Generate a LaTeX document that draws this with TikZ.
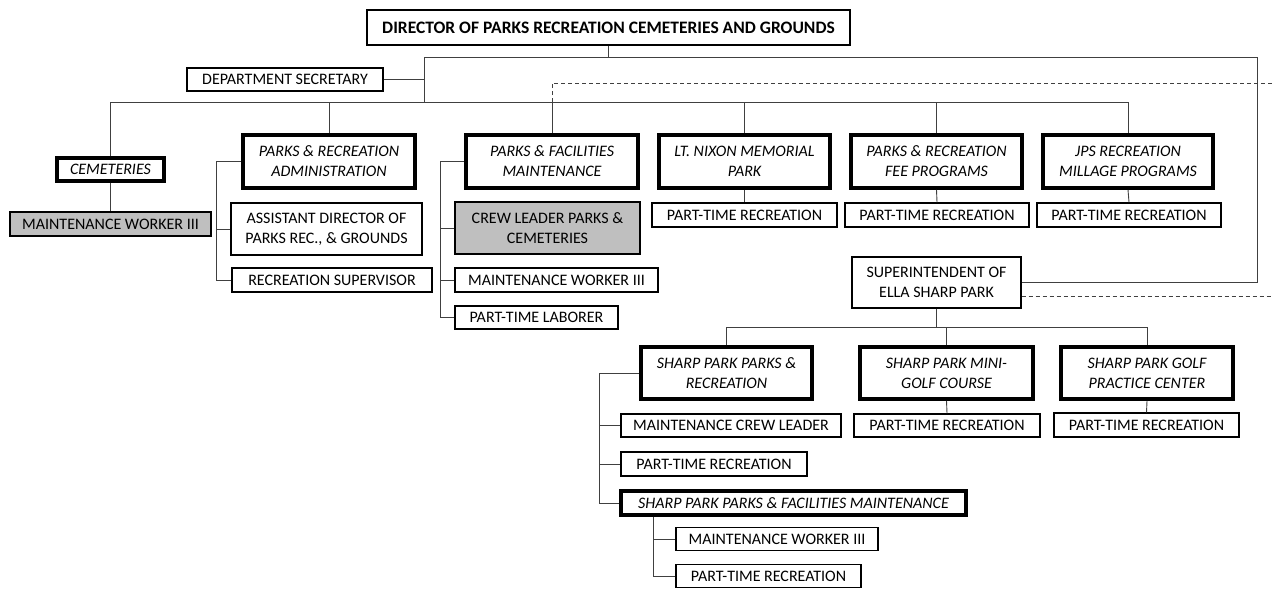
\documentclass[tikz,border=0pt]{standalone}
\usepackage{fontspec}
\setmainfont{Carlito}
\usetikzlibrary{positioning, calc}

\tikzset{
  box/.style={draw, line width=1.4pt, inner sep=0pt, align=center,
    font=\fontsize{16}{20}\selectfont},
  unitbox/.style={box, line width=3.6pt, font=\fontsize{16}{20}\selectfont\itshape},
  shadebox/.style={box, fill=black!25},
  link/.style={draw=black!75, line width=0.9pt},
  offlink/.style={link, dash pattern=on 4pt off 3pt}
}

\begin{document}
\begin{tikzpicture}[x=1pt, y=-1pt]
    \useasboundingbox (0,0) rectangle (1273,590);

    % Director and secretary
    \node[box, line width=1.8pt, minimum width=483pt, minimum height=35pt, font=\fontsize{17.5}{21}\selectfont\bfseries]
        (dir) at (608.5,27.5) {DIRECTOR OF PARKS RECREATION CEMETERIES AND GROUNDS};
    \node[box, minimum width=196pt, minimum height=23pt] (sec) at (285,79.5) {DEPARTMENT SECRETARY};

    % Divisions
    \node[unitbox, minimum width=107pt, minimum height=23pt] (cem) at (110.5,169.5) {CEMETERIES};
    \node[unitbox, minimum width=172pt, minimum height=53pt] (pra) at (329,161.5) {PARKS \& RECREATION\\ADMINISTRATION};
    \node[unitbox, minimum width=172pt, minimum height=53pt] (pfm) at (552,161.5) {PARKS \& FACILITIES\\MAINTENANCE};
    \node[unitbox, minimum width=171pt, minimum height=53pt] (nix) at (744.5,161.5) {LT. NIXON MEMORIAL\\PARK};
    \node[unitbox, minimum width=171pt, minimum height=53pt] (fee) at (936.5,161.5) {PARKS \& RECREATION\\FEE PROGRAMS};
    \node[unitbox, minimum width=170pt, minimum height=53pt] (jps) at (1128,161.5) {JPS RECREATION\\MILLAGE PROGRAMS};

    % Staff under divisions
    \node[shadebox, minimum width=201pt, minimum height=24pt] (cemw) at (110.5,224) {MAINTENANCE WORKER III};
    \node[box, minimum width=191pt, minimum height=52pt] (asst) at (326.5,229) {ASSISTANT DIRECTOR OF\\PARKS REC., \& GROUNDS};
    \node[box, minimum width=200pt, minimum height=24pt] (recsup) at (332,280) {RECREATION SUPERVISOR};
    \node[shadebox, minimum width=185pt, minimum height=52pt] (crew) at (547.5,228) {CREW LEADER PARKS \&\\CEMETERIES};
    \node[box, minimum width=203pt, minimum height=24pt] (pfmw) at (556.5,280) {MAINTENANCE WORKER III};
    \node[box, minimum width=163pt, minimum height=23pt] (ptl) at (536.5,317.5) {PART-TIME LABORER};
    \node[box, minimum width=185pt, minimum height=24pt] (nixpt) at (744.5,215) {PART-TIME RECREATION};
    \node[box, minimum width=184pt, minimum height=24pt] (feept) at (937,215) {PART-TIME RECREATION};
    \node[box, minimum width=184pt, minimum height=24pt] (jpspt) at (1129,215) {PART-TIME RECREATION};

    % Ella Sharp Park
    \node[box, minimum width=169pt, minimum height=51pt] (sup) at (936.5,282.5) {SUPERINTENDENT OF\\ELLA SHARP PARK};
    \node[unitbox, minimum width=171pt, minimum height=52pt] (sppr) at (726.5,373) {SHARP PARK PARKS \&\\RECREATION};
    \node[unitbox, minimum width=173pt, minimum height=52pt] (spmini) at (946.5,373) {SHARP PARK MINI-\\GOLF COURSE};
    \node[unitbox, minimum width=172pt, minimum height=52pt] (spgolf) at (1147,373) {SHARP PARK GOLF\\PRACTICE CENTER};
    \node[box, minimum width=186pt, minimum height=23pt] (minipt) at (947,425.5) {PART-TIME RECREATION};
    \node[box, minimum width=185pt, minimum height=24pt] (golfpt) at (1146.5,425) {PART-TIME RECREATION};
    \node[box, minimum width=220pt, minimum height=23pt] (mcl) at (731,425.5) {MAINTENANCE CREW LEADER};
    \node[box, minimum width=186pt, minimum height=24pt] (spt) at (714,464) {PART-TIME RECREATION};
    \node[unitbox, minimum width=345pt, minimum height=24pt] (sppfm) at (793.5,503) {SHARP PARK PARKS \& FACILITIES MAINTENANCE};
    \node[box, minimum width=202pt, minimum height=23pt] (spmw) at (777,539) {MAINTENANCE WORKER III};
    \node[box, minimum width=185pt, minimum height=23pt] (sppt) at (768.5,576) {PART-TIME RECREATION};

    % Junctions
    \coordinate (lt) at (424,57);
    \coordinate (rt) at (1257,57);
    \coordinate (bus) at (424,102);
    \coordinate (sbus) at (937,327);
    \coordinate (off1) at (1273,83);
    \coordinate (off2) at (1273,296);

    % Top lines
    \draw[link] (dir.south) |- (lt) -- (bus);
    \draw[link] (dir.south) |- (rt) |- (sup.east);
    \draw[link] (sec.east) -- (sec.east -| lt);
    \draw[link] (cem.north) -- (cem.north |- bus) -- (bus -| jps.north) -- (jps.north);
    \foreach \n in {pra, pfm, nix, fee}
        \draw[link] (\n.north) -- (\n.north |- bus);
    \draw[offlink] (pfm.north |- bus) |- (off1);
    \draw[offlink] ([yshift=-13.5pt]sup.east) -- (off2);

    % Single reports
    \draw[link] (cem.south) -- (cemw.north);
    \draw[link] (nix.south) -- (nixpt.north);
    \draw[link] (fee.south) -- (feept.north);
    \draw[link] (jps.south) -- (jpspt.north);
    \draw[link] (spmini.south) -- (minipt.north);
    \draw[link] (spgolf.south) -- (golfpt.north);

    % Brackets
    \foreach \n in {asst, recsup}
        \draw[link] (pra.west) -- ++(-25,0) |- (\n.west);
    \foreach \n in {crew, pfmw, ptl}
        \draw[link] (pfm.west) -- ++(-24,0) |- (\n.west);
    \foreach \n in {mcl, spt, sppfm}
        \draw[link] (sppr.west) -- ++(-40,0) |- (\n.west);
    \foreach \n in {spmw, sppt}
        \draw[link] ([xshift=34pt]sppfm.south west) |- (\n.west);

    % Ella Sharp Park tree
    \draw[link] (sup.south) -- (sup.south |- sbus);
    \draw[link] (sppr.north) -- (sppr.north |- sbus) -- (sbus -| spgolf.north) -- (spgolf.north);
    \draw[link] (spmini.north) -- (spmini.north |- sbus);
\end{tikzpicture}
\end{document}
